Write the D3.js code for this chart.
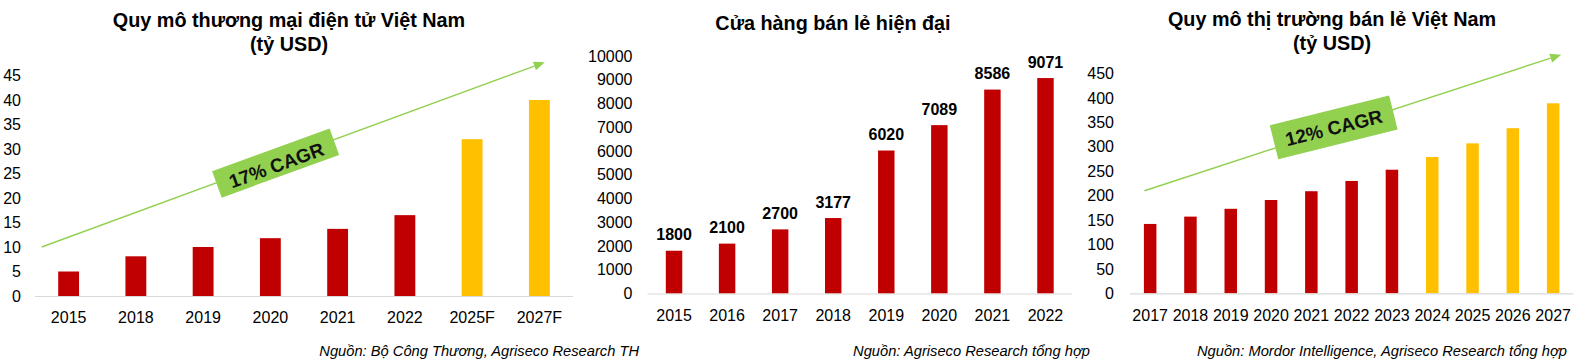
<!DOCTYPE html>
<html>
<head>
<meta charset="utf-8">
<script src="https://cdn.jsdelivr.net/npm/d3@7"></script>
<style>
  html, body { margin: 0; padding: 0; background: #fff; }
  svg { display: block; font-family: "Liberation Sans", Arial, sans-serif; }
</style>
</head>
<body>
<svg id="chart" width="1583" height="361"></svg>
<script>
// ---------- DATA ----------
const ecomTitle = ["Quy mô thương mại điện tử Việt Nam", "(tỷ USD)"];
const ecomCategories = ["2015", "2018", "2019", "2020", "2021", "2022", "2025F", "2027F"];
const ecomValues = [5, 8.1, 10, 11.8, 13.7, 16.5, 32, 40];
const ecomForecast = ["2025F", "2027F"];
const ecomTicks = [0, 5, 10, 15, 20, 25, 30, 35, 40, 45];
const ecomSource = "Nguồn: Bộ Công Thương, Agriseco Research TH";
const ecomCagr = { label: "17% CAGR", from: [-0.4, 10], to: [7.08, 47.7], at: 0.465 };

const storeTitle = ["Cửa hàng bán lẻ hiện đại"];
const storeCategories = ["2015", "2016", "2017", "2018", "2019", "2020", "2021", "2022"];
const storeValues = [1800, 2100, 2700, 3177, 6020, 7089, 8586, 9071];
const storeTicks = [0, 1000, 2000, 3000, 4000, 5000, 6000, 7000, 8000, 9000, 10000];
const storeSource = "Nguồn: Agriseco Research tổng hợp";

const retailTitle = ["Quy mô thị trường bán lẻ Việt Nam", "(tỷ USD)"];
const retailCategories = ["2017", "2018", "2019", "2020", "2021", "2022", "2023", "2024", "2025", "2026", "2027"];
const retailValues = [142, 157, 173, 191, 209, 230, 253, 279, 307, 338, 389];
const retailForecast = ["2024", "2025", "2026", "2027"];
const retailTicks = [0, 50, 100, 150, 200, 250, 300, 350, 400, 450];
const retailSource = "Nguồn: Mordor Intelligence, Agriseco Research tổng hợp";
const retailCagr = { label: "12% CAGR", from: [-0.14, 210], to: [10.2, 488.5], at: 0.454 };

// ---------- STYLE ----------
const RED = "#C00000", YELLOW = "#FFC000", GREEN = "#92D050", AXIS = "#D9D9D9";
const svg = d3.select("#chart");

function panel(cfg) {
  const g = svg.append("g");
  const x = d3.scaleBand().domain(cfg.categories).range(cfg.xRange)
    .paddingInner(0.69).paddingOuter(0.345);
  const y = d3.scaleLinear().domain([0, d3.max(cfg.ticks)]).range(cfg.yRange);

  // title
  const t = g.append("text").attr("text-anchor", "middle")
    .attr("font-weight", "bold").attr("font-size", cfg.titleSize).attr("fill", "#000");
  cfg.title.forEach((line, i) => {
    t.append("tspan").attr("x", cfg.titleX).attr("y", cfg.titleY + i * 23.5).text(line);
  });

  // y axis labels
  const ya = g.append("g").attr("transform", `translate(${cfg.xRange[0]},0)`)
    .call(d3.axisLeft(y).tickValues(cfg.ticks).tickSize(0).tickPadding(cfg.yPad).tickFormat(d3.format("d")));
  ya.select(".domain").remove();
  ya.selectAll("text").attr("font-size", 16).attr("fill", "#000")
    .attr("font-family", "'Liberation Sans', Arial, sans-serif");

  // x axis labels
  const xa = g.append("g").attr("transform", `translate(0,${cfg.yRange[0]})`)
    .call(d3.axisBottom(x).tickSize(0).tickPadding(cfg.xPad));
  xa.select(".domain").remove();
  xa.selectAll("text").attr("font-size", 16).attr("fill", "#000")
    .attr("font-family", "'Liberation Sans', Arial, sans-serif");

  // bars
  g.selectAll("rect.bar").data(cfg.values).enter().append("rect")
    .attr("class", "bar")
    .attr("x", (d, i) => x(cfg.categories[i]))
    .attr("width", x.bandwidth())
    .attr("y", d => y(d))
    .attr("height", d => y(0) - y(d))
    .attr("fill", (d, i) => (cfg.forecast || []).includes(cfg.categories[i]) ? YELLOW : RED);

  // baseline
  g.append("line").attr("x1", cfg.xRange[0]).attr("x2", cfg.xRange[1])
    .attr("y1", y(0) + 0.5).attr("y2", y(0) + 0.5)
    .attr("stroke", AXIS).attr("stroke-width", 1.2);

  // value labels
  if (cfg.showValues) {
    g.selectAll("text.val").data(cfg.values).enter().append("text")
      .attr("class", "val")
      .attr("x", (d, i) => x(cfg.categories[i]) + x.bandwidth() / 2)
      .attr("y", d => y(d) - 10.5)
      .attr("text-anchor", "middle").attr("font-weight", "bold")
      .attr("font-size", 16).attr("fill", "#000")
      .text(d => d);
  }

  // CAGR arrow
  if (cfg.cagr) {
    const step = x.step();
    const xi = idx => cfg.xRange[0] + step * (idx + 0.5);
    const x1 = xi(cfg.cagr.from[0]), y1 = y(cfg.cagr.from[1]);
    const x2 = xi(cfg.cagr.to[0]), y2 = y(cfg.cagr.to[1]);
    const ang = Math.atan2(y2 - y1, x2 - x1);
    const head = 11, hw = 4.5;
    const bx = x2 - head * Math.cos(ang), by = y2 - head * Math.sin(ang);
    g.append("line").attr("x1", x1).attr("y1", y1).attr("x2", bx).attr("y2", by)
      .attr("stroke", GREEN).attr("stroke-width", 1.4);
    const px = -Math.sin(ang), py = Math.cos(ang);
    g.append("polygon")
      .attr("points", [[x2, y2], [bx + px * hw, by + py * hw], [bx - px * hw, by - py * hw]].map(p => p.join(",")).join(" "))
      .attr("fill", GREEN);
    const cx = x1 + (x2 - x1) * cfg.cagr.at, cy = y1 + (y2 - y1) * cfg.cagr.at + cfg.boxShift;
    const bg = g.append("g").attr("transform", `translate(${cx},${cy}) rotate(${cfg.boxAngle})`);
    bg.append("rect").attr("x", -cfg.boxW / 2).attr("y", -cfg.boxH / 2)
      .attr("width", cfg.boxW).attr("height", cfg.boxH).attr("fill", GREEN);
    bg.append("text").attr("x", 0).attr("y", cfg.textDy).attr("text-anchor", "middle")
      .attr("font-weight", "bold").attr("font-size", 19).attr("fill", "#111")
      .text(cfg.cagr.label);
  }

  // source
  g.append("text").attr("x", cfg.sourceX).attr("y", 356).attr("text-anchor", "end")
    .attr("font-style", "italic").attr("font-size", 14.7).attr("fill", "#000")
    .text(cfg.source);
}

panel({
  title: ecomTitle, titleX: 289, titleY: 27, titleSize: 19.8,
  categories: ecomCategories, values: ecomValues, forecast: ecomForecast, ticks: ecomTicks,
  xRange: [35, 573], yRange: [296, 75.5], yPad: 14, xPad: 15.6,
  cagr: ecomCagr, boxW: 125, boxH: 28, boxAngle: -20, boxShift: 2, textDy: 9,
  source: ecomSource, sourceX: 639
});

panel({
  title: storeTitle, titleX: 833, titleY: 29.5, titleSize: 19.8,
  categories: storeCategories, values: storeValues, ticks: storeTicks,
  xRange: [647.5, 1072], yRange: [293.5, 56], yPad: 15, xPad: 16,
  showValues: true,
  source: storeSource, sourceX: 1090
});

panel({
  title: retailTitle, titleX: 1332, titleY: 26.4, titleSize: 19.8,
  categories: retailCategories, values: retailValues, forecast: retailForecast, ticks: retailTicks,
  xRange: [1130, 1573.3], yRange: [293.3, 73.5], yPad: 16, xPad: 16,
  cagr: retailCagr, boxW: 123, boxH: 35, boxAngle: -14, boxShift: -1.5, textDy: 7,
  source: retailSource, sourceX: 1567
});
</script>
</body>
</html>
